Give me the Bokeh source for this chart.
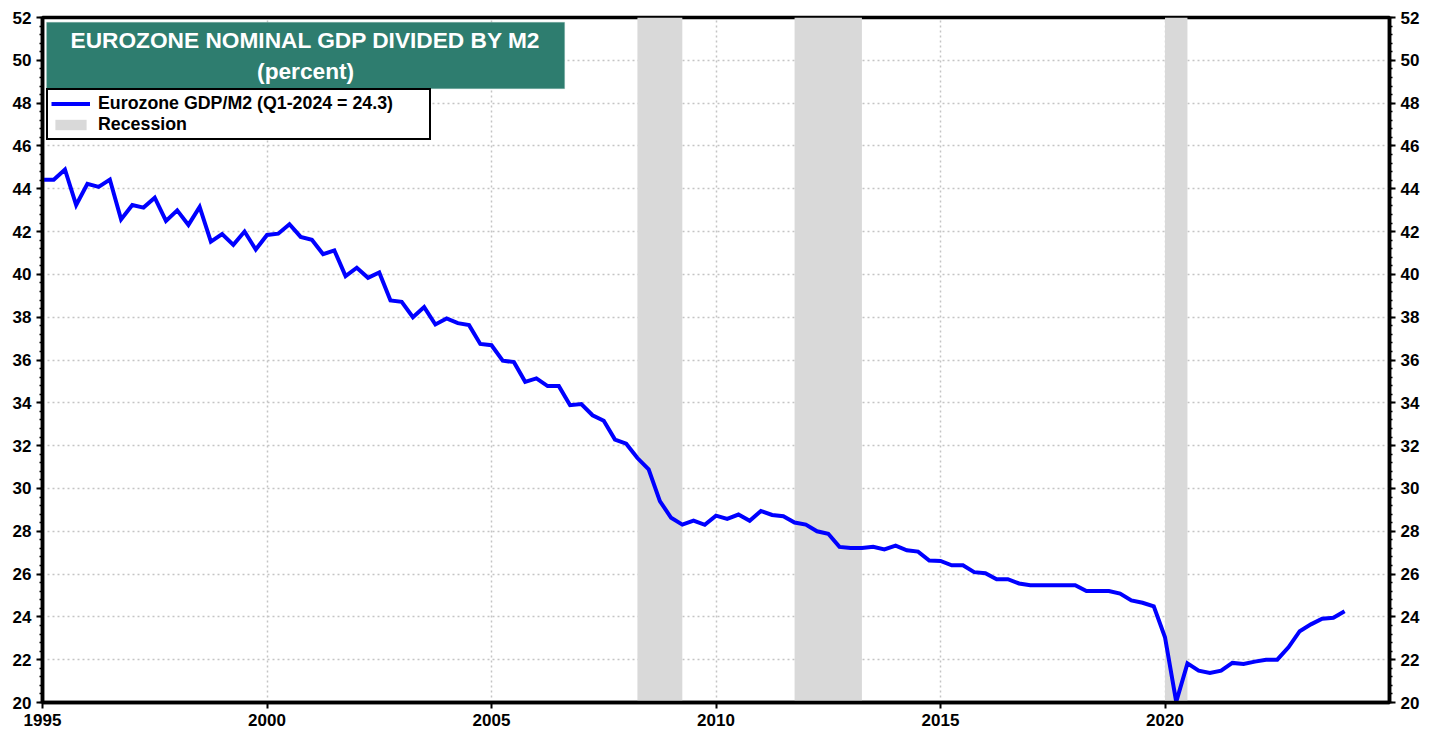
import pandas as pd
from bokeh.plotting import figure
from bokeh.models import (Range1d, LinearAxis, SingleIntervalTicker, FixedTicker,
                          BoxAnnotation, Label, Legend, LegendItem, ColumnDataSource)
from bokeh.embed import file_html
from bokeh.resources import INLINE

# ---------------- data ----------------
quarters = pd.period_range("1995Q1", "2024Q1", freq="Q")
gdp_m2 = [
    44.42, 44.42, 44.90, 43.24, 44.23, 44.09, 44.43, 42.57, 43.24, 43.12,
    43.58, 42.50, 42.99, 42.31, 43.15, 41.53, 41.88, 41.38, 42.00, 41.16,
    41.84, 41.90, 42.34, 41.75, 41.62, 40.94, 41.12, 39.92, 40.31, 39.84,
    40.09, 38.78, 38.72, 38.00, 38.47, 37.66, 37.94, 37.72, 37.63, 36.75,
    36.69, 35.97, 35.90, 34.98, 35.14, 34.78, 34.78, 33.89, 33.94, 33.42,
    33.16, 32.28, 32.09, 31.42, 30.89, 29.41, 28.63, 28.31, 28.50, 28.30,
    28.73, 28.58, 28.78, 28.49, 28.95, 28.76, 28.70, 28.41, 28.31, 28.00,
    27.88, 27.27, 27.22, 27.22, 27.27, 27.15, 27.33, 27.11, 27.05, 26.63,
    26.61, 26.41, 26.41, 26.09, 26.04, 25.76, 25.76, 25.56, 25.48, 25.48,
    25.48, 25.48, 25.48, 25.21, 25.21, 25.21, 25.09, 24.77, 24.66, 24.49,
    23.05, 20.03, 21.83, 21.49, 21.38, 21.49, 21.85, 21.80, 21.91, 22.00,
    22.00, 22.58, 23.33, 23.65, 23.91, 23.96, 24.26,
]
recession_start = [2008.25, 2011.75, 2020.0]
recession_end = [2009.25, 2013.25, 2020.5]
x_ticks = [1995, 2000, 2005, 2010, 2015, 2020]
title_lines = ["EUROZONE NOMINAL GDP DIVIDED BY M2", "(percent)"]
series_label = "Eurozone GDP/M2 (Q1-2024 = 24.3)"
recession_label = "Recession"

x_years = [q.year + (q.quarter - 1) / 4 for q in quarters]

FONT = "Liberation Sans"

p = figure(width=1433, height=733, output_backend="svg", toolbar_location=None,
           x_range=Range1d(1995, 2025), y_range=Range1d(20, 52),
           min_border_left=42, min_border_right=44, min_border_top=17,
           min_border_bottom=31, y_axis_location="left")
p.background_fill_color = "white"
p.border_fill_color = "white"
p.outline_line_color = "black"
p.outline_line_width = 3.5

# recession bands
rec_src = ColumnDataSource(dict(left=recession_start, right=recession_end,
                                bottom=[20] * len(recession_start),
                                top=[52] * len(recession_start)))
rec = p.quad(left="left", right="right", bottom="bottom", top="top", source=rec_src,
             fill_color="#D9D9D9", line_color=None)

line_src = ColumnDataSource(dict(x=x_years, y=gdp_m2))
ln = p.line("x", "y", source=line_src, line_color="#0000FF", line_width=4,
            line_join="miter")

# axes
yticker = SingleIntervalTicker(interval=2, num_minor_ticks=5)
xticker = FixedTicker(ticks=x_ticks)

def style_axis(ax):
    ax.axis_line_color = "black"
    ax.axis_line_width = 3.5
    ax.major_tick_line_color = "black"
    ax.major_tick_line_width = 2
    ax.minor_tick_line_color = "black"
    ax.minor_tick_line_width = 1.5
    ax.major_tick_in = 0
    ax.major_tick_out = 6
    ax.minor_tick_in = 0
    ax.minor_tick_out = 3
    ax.major_label_text_font = FONT
    ax.major_label_text_font_style = "bold"
    ax.major_label_text_font_size = "17px"
    ax.major_label_text_color = "black"
    ax.major_label_standoff = 5

p.yaxis.ticker = yticker
style_axis(p.yaxis[0])
p.xaxis.ticker = xticker
style_axis(p.xaxis[0])
p.xaxis.minor_tick_out = 0

right_axis = LinearAxis(ticker=SingleIntervalTicker(interval=2, num_minor_ticks=5))
style_axis(right_axis)
p.add_layout(right_axis, "right")

# grid
p.ygrid.ticker = yticker
p.xgrid.ticker = xticker
for g in (p.xgrid[0], p.ygrid[0]):
    g.grid_line_color = "#C4C4C4"
    g.grid_line_dash = "2 3"
    g.grid_line_width = 1.5

# title box
p.add_layout(BoxAnnotation(left=1995.09, right=2006.63, top=51.78, bottom=48.67,
                           fill_color="#2E7D6F", fill_alpha=1.0,
                           line_color="#9CC5BC", line_width=1))
for txt, yy in zip(title_lines, [50.97, 49.52]):
    p.add_layout(Label(x=2000.86, y=yy, text=txt, text_align="center",
                       text_baseline="middle", text_color="white",
                       text_font=FONT, text_font_style="bold",
                       text_font_size="22.7px"))

# legend
legend = Legend(items=[LegendItem(label=series_label, renderers=[ln]),
                       LegendItem(label=recession_label, renderers=[rec])],
                location=(4, 562), padding=3, spacing=0, margin=0,
                glyph_width=39, glyph_height=13, label_standoff=8,
                label_width=328, label_height=20,
                label_text_font=FONT, label_text_font_style="bold",
                label_text_font_size="17.8px", label_text_color="black",
                border_line_color="black", border_line_width=2.5,
                border_line_alpha=1.0,
                background_fill_color="white", background_fill_alpha=1.0)
p.add_layout(legend, "center")

open("out.html", "w").write(file_html(p, INLINE))
